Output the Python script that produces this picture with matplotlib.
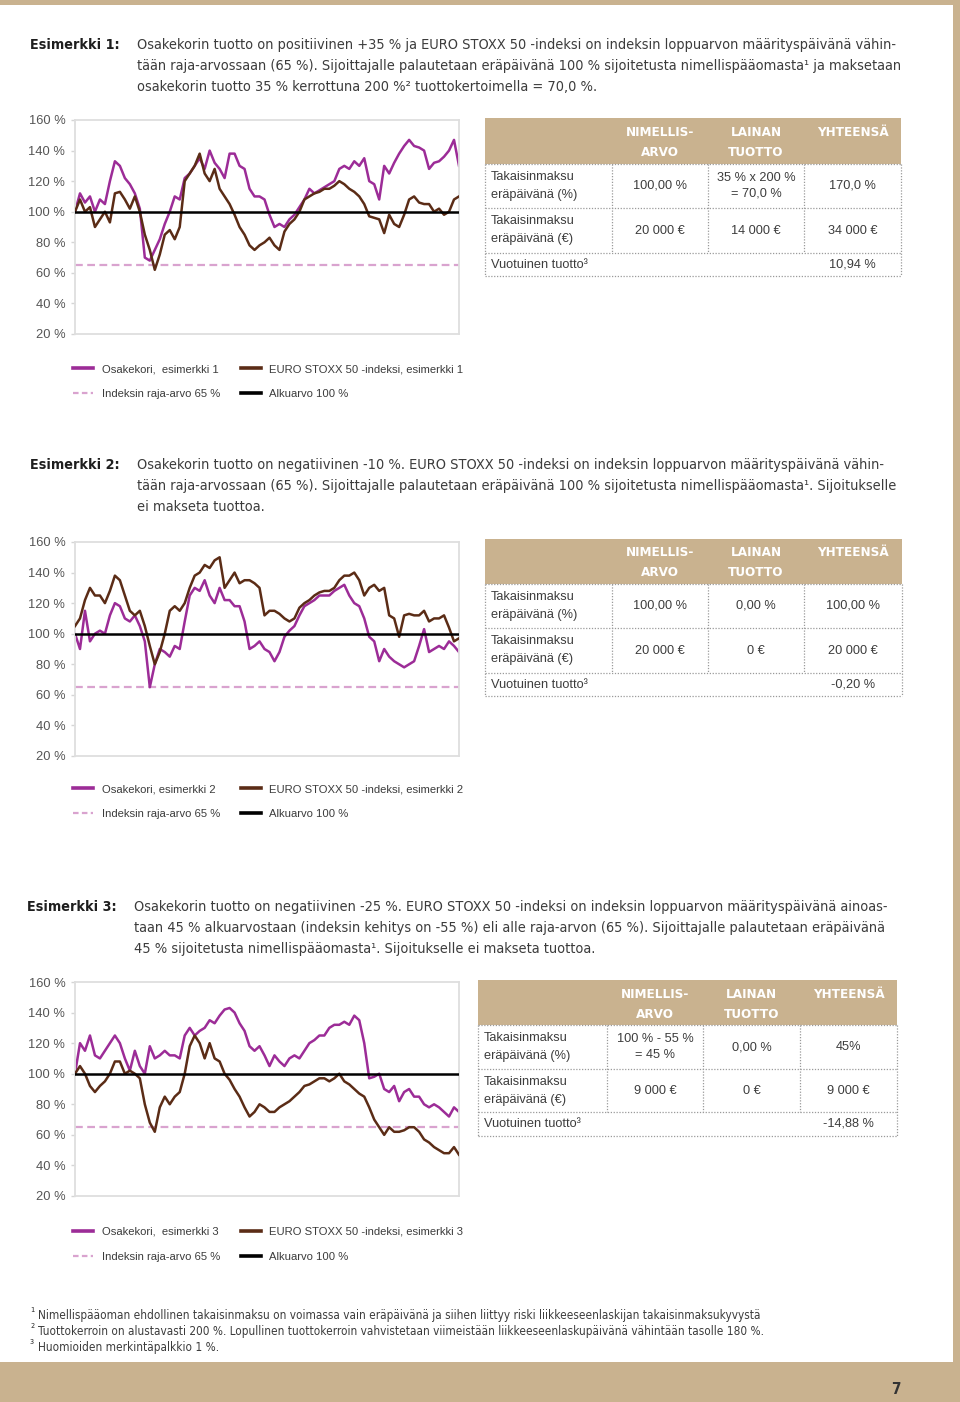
import numpy as np
import matplotlib
matplotlib.use("Agg")
import matplotlib.pyplot as plt
from matplotlib.lines import Line2D
from matplotlib.patches import Rectangle

# --- data (percent of start value) ---
basket1 = [100, 112, 106, 110, 100, 108, 105, 120, 133, 130, 122, 118, 112, 102, 70, 68,
           75, 82, 92, 100, 110, 108, 122, 125, 130, 135, 128, 140, 132, 128, 122, 138,
           138, 130, 128, 115, 110, 110, 108, 98, 90, 92, 90, 95, 98, 103, 108, 115,
           112, 114, 116, 118, 120, 128, 130, 128, 133, 130, 135, 120, 118, 108, 130, 125,
           132, 138, 143, 147, 143, 142, 140, 128, 132, 133, 136, 140, 147, 130]
index1 = [100, 108, 100, 103, 90, 95, 100, 93, 112, 113, 108, 102, 110, 100, 85, 75,
          62, 72, 85, 88, 82, 90, 120, 125, 130, 138, 125, 120, 128, 115, 110, 105,
          98, 90, 85, 78, 75, 78, 80, 83, 78, 75, 87, 92, 95, 100, 108, 110,
          112, 113, 115, 115, 117, 120, 118, 115, 113, 110, 105, 97, 96, 95, 86, 98,
          92, 90, 98, 108, 110, 106, 105, 105, 100, 102, 98, 100, 108, 110]

basket2 = [100, 90, 115, 95, 100, 102, 100, 112, 120, 118, 110, 108, 112, 105, 95, 65,
           80, 90, 88, 85, 92, 90, 108, 125, 130, 128, 135, 125, 120, 130, 122, 122,
           118, 118, 108, 90, 92, 95, 90, 88, 82, 88, 98, 102, 105, 112, 118, 120,
           122, 125, 125, 125, 128, 130, 132, 125, 120, 118, 110, 98, 95, 82, 90, 85,
           82, 80, 78, 80, 82, 92, 103, 88, 90, 92, 90, 95, 92, 88]
index2 = [105, 110, 122, 130, 125, 125, 120, 128, 138, 135, 125, 115, 112, 115, 105, 92,
          80, 88, 100, 115, 118, 115, 120, 130, 138, 140, 145, 143, 148, 150, 130, 135,
          140, 133, 135, 135, 133, 130, 112, 115, 115, 113, 110, 108, 110, 117, 120, 122,
          125, 127, 128, 128, 130, 135, 138, 138, 140, 135, 125, 130, 132, 128, 130, 112,
          110, 98, 112, 113, 112, 112, 115, 108, 110, 110, 112, 104, 95, 97]

basket3 = [100, 120, 115, 125, 112, 110, 115, 120, 125, 120, 110, 102, 115, 105, 100, 118,
           110, 112, 115, 112, 112, 110, 125, 130, 125, 128, 130, 135, 133, 138, 142, 143,
           140, 133, 128, 118, 115, 118, 112, 105, 112, 108, 105, 110, 112, 110, 115, 120,
           122, 125, 125, 130, 132, 132, 134, 132, 138, 135, 120, 97, 98, 100, 90, 88,
           92, 82, 88, 90, 85, 85, 80, 78, 80, 78, 75, 72, 78, 75]
index3 = [100, 105, 100, 92, 88, 92, 95, 100, 108, 108, 100, 102, 100, 97, 80, 68,
          62, 78, 85, 80, 85, 88, 100, 118, 125, 120, 110, 120, 110, 108, 100, 96,
          90, 85, 78, 72, 75, 80, 78, 75, 75, 78, 80, 82, 85, 88, 92, 93,
          95, 97, 97, 95, 97, 100, 95, 93, 90, 87, 85, 78, 70, 65, 60, 65,
          62, 62, 63, 65, 65, 62, 57, 55, 52, 50, 48, 48, 52, 47]

start_level = 100
barrier = 65
y_ticks = [20, 40, 60, 80, 100, 120, 140, 160]
y_labels = ["20 %", "40 %", "60 %", "80 %", "100 %", "120 %", "140 %", "160 %"]

headers = ["Esimerkki 1:", "Esimerkki 2:", "Esimerkki 3:"]
bodies = [
    ["Osakekorin tuotto on positiivinen +35 % ja EURO STOXX 50 -indeksi on indeksin loppuarvon määrityspäivänä vähin-",
     "tään raja-arvossaan (65 %). Sijoittajalle palautetaan eräpäivänä 100 % sijoitetusta nimellispääomasta¹ ja maksetaan",
     "osakekorin tuotto 35 % kerrottuna 200 %² tuottokertoimella = 70,0 %."],
    ["Osakekorin tuotto on negatiivinen -10 %. EURO STOXX 50 -indeksi on indeksin loppuarvon määrityspäivänä vähin-",
     "tään raja-arvossaan (65 %). Sijoittajalle palautetaan eräpäivänä 100 % sijoitetusta nimellispääomasta¹. Sijoitukselle",
     "ei makseta tuottoa."],
    ["Osakekorin tuotto on negatiivinen -25 %. EURO STOXX 50 -indeksi on indeksin loppuarvon määrityspäivänä ainoas-",
     "taan 45 % alkuarvostaan (indeksin kehitys on -55 %) eli alle raja-arvon (65 %). Sijoittajalle palautetaan eräpäivänä",
     "45 % sijoitetusta nimellispääomasta¹. Sijoitukselle ei makseta tuottoa."],
]
basket_labels = ["Osakekori,  esimerkki 1", "Osakekori, esimerkki 2", "Osakekori,  esimerkki 3"]

col_heads = ["NIMELLIS-\nARVO", "LAINAN\nTUOTTO", "YHTEENSÄ"]
row_heads = ["Takaisinmaksu\neräpäivänä (%)", "Takaisinmaksu\neräpäivänä (€)"]
annual_label = "Vuotuinen tuotto³"
table_vals = [
    [["100,00 %", "35 % x 200 %\n= 70,0 %", "170,0 %"], ["20 000 €", "14 000 €", "34 000 €"]],
    [["100,00 %", "0,00 %", "100,00 %"], ["20 000 €", "0 €", "20 000 €"]],
    [["100 % - 55 %\n= 45 %", "0,00 %", "45%"], ["9 000 €", "0 €", "9 000 €"]],
]
annual_vals = ["10,94 %", "-0,20 %", "-14,88 %"]

footnotes = [
    ("¹", "Nimellispääoman ehdollinen takaisinmaksu on voimassa vain eräpäivänä ja siihen liittyy riski liikkeeseenlaskijan takaisinmaksukyvystä"),
    ("²", "Tuottokerroin on alustavasti 200 %. Lopullinen tuottokerroin vahvistetaan viimeistään liikkeeseenlaskupäivänä vähintään tasolle 180 %."),
    ("³", "Huomioiden merkintäpalkkio 1 %."),
]

# --- styling ---
W, H = 960, 1402
TAN = "#c9b28f"
PURPLE = "#9c2c97"
BROWN = "#5b2c16"
PINK = "#d9a3cf"
TXT = "#3c3c3c"
NARROW = dict(family="DejaVu Sans", stretch="condensed")
REG = ["Liberation Sans", "DejaVu Sans"]

fig = plt.figure(figsize=(W / 100, H / 100), dpi=100)
fig.patch.set_facecolor(TAN)
bg = fig.add_axes([0, 0, 1, 1])
bg.set_xlim(0, W)
bg.set_ylim(H, 0)
bg.axis("off")
bg.add_patch(Rectangle((0, 5), 953, 1357, facecolor="white", edgecolor="none"))
renderer = fig.canvas.get_renderer()


def fit(texts, target):
    # scale a group of texts so the first one spans `target` pixels
    w = texts[0].get_window_extent(renderer).width
    for t in texts:
        t.set_fontsize(t.get_fontsize() * target / w)


blocks = [
    dict(ty=45, hx=30, bx=137, ctop=120,
         tx=[485, 612, 708, 804, 901], tyy=[118, 164, 208, 253, 276], leg=364),
    dict(ty=465, hx=30, bx=137, ctop=542,
         tx=[485, 612, 708, 804, 902], tyy=[539, 584, 628, 673, 696], leg=784),
    dict(ty=907, hx=27, bx=134, ctop=982,
         tx=[478, 607, 703, 800, 897], tyy=[980, 1025, 1069, 1112, 1136], leg=1227),
]
series = [(basket1, index1), (basket2, index2), (basket3, index3)]

head_texts, body_texts = [], []
for k, b in enumerate(blocks):
    head_texts.append(bg.text(b["hx"], b["ty"], headers[k], **NARROW, weight="bold",
                              fontsize=11, color="#1e1e1e", va="center"))
    for j, line in enumerate(bodies[k]):
        body_texts.append(bg.text(b["bx"], b["ty"] + 21 * j, line, **NARROW,
                                  fontsize=11, color=TXT, va="center"))

    # chart
    basket, index = series[k]
    ax = fig.add_axes([75 / W, 1 - (b["ctop"] + 214) / H, 384 / W, 214 / H])
    x = np.arange(len(basket))
    ax.axhline(barrier, color=PINK, lw=1.6, ls=(0, (3.5, 2)), zorder=1)
    ax.plot(x, basket, color=PURPLE, lw=1.8, zorder=2)
    ax.plot(x, index, color=BROWN, lw=1.8, zorder=3)
    ax.axhline(start_level, color="black", lw=1.8, zorder=4)
    ax.set_xlim(0, len(basket) - 1)
    ax.set_ylim(20, 160)
    ax.set_xticks([])
    ax.set_yticks(y_ticks)
    ax.set_yticklabels(y_labels, family=REG, fontsize=9.3, color="#555555")
    ax.tick_params(axis="y", length=3, width=1, color="#d5d5d5", pad=4)
    for s in ax.spines.values():
        s.set_color("#dedede")
        s.set_linewidth(1.3)

    handles = [Line2D([], [], color=PURPLE, lw=2.6),
               Line2D([], [], color=PINK, lw=1.6, ls=(0, (2.5, 1.5))),
               Line2D([], [], color=BROWN, lw=2.6),
               Line2D([], [], color="black", lw=2.6)]
    labels = [basket_labels[k], "Indeksin raja-arvo 65 %",
              f"EURO STOXX 50 -indeksi, esimerkki {k + 1}", "Alkuarvo 100 %"]
    leg = fig.legend(handles, labels, ncol=2, loc="upper left",
                     bbox_to_anchor=(73 / W, 1 - b["leg"] / H), frameon=False,
                     borderpad=0, borderaxespad=0, handlelength=1.8,
                     handletextpad=0.75, columnspacing=1.85, labelspacing=1.35,
                     prop={"family": REG, "size": 8.1})
    for t in leg.get_texts():
        t.set_color(TXT)

    # table
    xl, c1, c2, c3, xr = b["tx"]
    yt, yh, y1, y2, yb = b["tyy"]
    bg.add_patch(Rectangle((xl, yt), xr - xl, yh - yt, facecolor=TAN, edgecolor="none"))
    dot = dict(color="#9a9a9a", lw=0.9, ls=(0, (1, 1.3)))
    for yy in (yh, y1, y2, yb):
        bg.plot([xl, xr], [yy, yy], **dot)
    bg.plot([xl, xl], [yh, yb], **dot)
    bg.plot([xr, xr], [yh, yb], **dot)
    for xx in (c1, c2, c3):
        bg.plot([xx, xx], [yh, y2], **dot)
    centers = [(c1 + c2) / 2, (c2 + c3) / 2, (c3 + xr) / 2]
    for cx, h in zip(centers, col_heads):
        for j, part in enumerate(h.split("\n")):
            bg.text(cx, yt + 14 + 20 * j, part, **NARROW, weight="bold",
                    fontsize=9.6, color="white", ha="center", va="center")
    for r, (ra, rb) in enumerate([(yh, y1), (y1, y2)]):
        for j, part in enumerate(row_heads[r].split("\n")):
            bg.text(xl + 6, ra + 13 + 18 * j, part, family=REG, fontsize=9.2,
                    color=TXT, va="center")
        for cx, v in zip(centers, table_vals[k][r]):
            bg.text(cx, (ra + rb) / 2, v, family=REG, fontsize=9.2, color=TXT,
                    ha="center", va="center", linespacing=1.35)
    bg.text(xl + 6, (y2 + yb) / 2, annual_label, family=REG, fontsize=9.2,
            color=TXT, va="center")
    bg.text(centers[2], (y2 + yb) / 2, annual_vals[k], family=REG, fontsize=9.2,
            color=TXT, ha="center", va="center")

fit(head_texts, 89)
fit(body_texts, 760)

# footnotes
note_texts = []
for j, (sup, note) in enumerate(footnotes):
    bg.text(30, 1312 + 16 * j, sup, **NARROW, fontsize=8.3, color=TXT, va="center")
    note_texts.append(bg.text(38, 1315 + 16 * j, note, **NARROW, fontsize=8.6,
                              color=TXT, va="center"))
fit(note_texts, 719)

bg.text(896, 1390, "7", **NARROW, weight="bold", fontsize=11, color="#333333",
        ha="center", va="center")

fig.savefig("out.png", dpi=100, facecolor=fig.get_facecolor())
